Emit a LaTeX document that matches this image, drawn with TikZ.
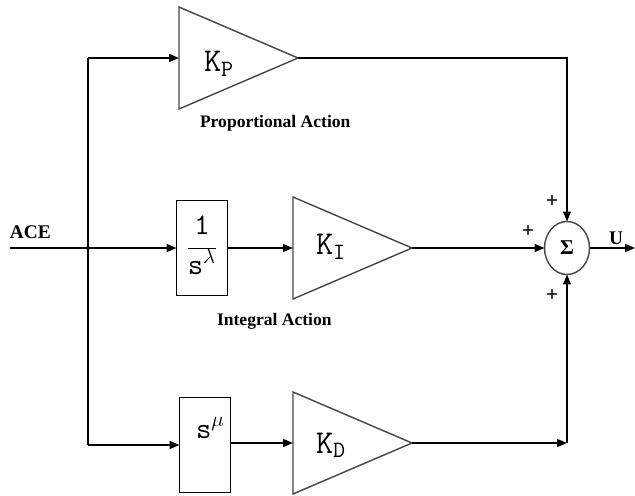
\documentclass[tikz,border=0pt]{standalone}
\usepackage{fontspec}
\setmainfont{Liberation Serif}
\usetikzlibrary{arrows.meta,positioning,shapes.geometric}
\definecolor{edgegray}{RGB}{70,70,70}

\begin{document}
\begin{tikzpicture}[x=0.02cm, y=-0.02cm, line width=0.8pt,
  every node/.style={font=\small, inner sep=0pt, outer sep=0pt},
  gain/.style={draw=edgegray, isosceles triangle, isosceles triangle stretches, minimum width=2.04cm, minimum height=2.38cm, anchor=west},
  block/.style={draw, rectangle, minimum width=1.02cm, minimum height=1.9cm},
  sumnode/.style={draw=edgegray, ellipse, minimum width=0.9cm, minimum height=1.06cm},
  sig/.style={-{Triangle[length=2mm,width=1.6mm]}},
  gaintext/.style={font=\ttfamily\fontsize{19}{19}\selectfont, anchor=base west},
  actiontext/.style={font=\bfseries\fontsize{10}{12}\selectfont, anchor=base west},
  sign/.style={font=\bfseries\fontsize{12}{12}\selectfont}]
\useasboundingbox (0,0) rectangle (635,496);

% gains and blocks
\node[gain] (kp) at (179,58) {};
\node[gain] (ki) at (293,248) {};
\node[gain] (kd) at (293,443) {};
\node[block, font=\ttfamily\fontsize{17}{19}\selectfont] (integ) at (202,248) {\begin{tabular}{@{}c@{}}1\\[2pt]\hline\rule{0pt}{15pt}s$^{\lambda}$\end{tabular}};
\node[block] (deriv) at (205,445) {};
\node[sumnode, font=\bfseries\fontsize{12}{12}\selectfont] (sum) at (567,248) {Σ};

% texts inside
\node[gaintext] (kplab) at (204,72) {K\textsubscript{P}};
\node[gaintext] (kilab) at (316,255) {K\textsubscript{I}};
\node[gaintext] (kdlab) at (316,453) {K\textsubscript{D}};
\node[font=\ttfamily\fontsize{17}{17}\selectfont, anchor=base west] (derivlab) at (196,438) {s$^{\mu}$};

% connectors
\coordinate (ace) at (10,248);
\coordinate (ptop) at (88,58);
\coordinate (pbot) at (88,445);
\draw[sig] (ace) -- (integ.west);
\draw (ptop) -- (pbot);
\draw[sig] (ptop) -- (kp.west);
\draw[sig] (pbot) -- (deriv.west);
\draw[sig] (integ.east) -- (ki.west);
\draw[sig] (deriv.east |- kd.west) -- (kd.west);
\coordinate (pturn) at (sum.north |- kp.apex);
\draw[sig] (kp.apex) -- (pturn) -- (sum.north);
\draw[sig] (ki.apex) -- (sum.west);
\coordinate (dturn) at (sum.south |- kd.apex);
\draw[sig] (kd.apex) -- (dturn);
\draw[sig] (dturn) -- (sum.south);
\coordinate (uout) at (635,248);
\draw[sig] (sum.east) -- (uout);

% labels
\node[font=\bfseries\fontsize{11}{11}\selectfont, anchor=base west] (acelab) at (10,239) {ACE};
\node[font=\bfseries\fontsize{11}{11}\selectfont, anchor=base] (ulab) at (616,245) {U};
\node[actiontext] (plab) at (200,128) {Proportional Action};
\node[actiontext] (ilab) at (217,325) {Integral Action};
\node[sign] (ptopsign) at (552,202) {+};
\node[sign] (pleftsign) at (528,232) {+};
\node[sign] (pbotsign) at (552,296) {+};
\end{tikzpicture}
\end{document}
